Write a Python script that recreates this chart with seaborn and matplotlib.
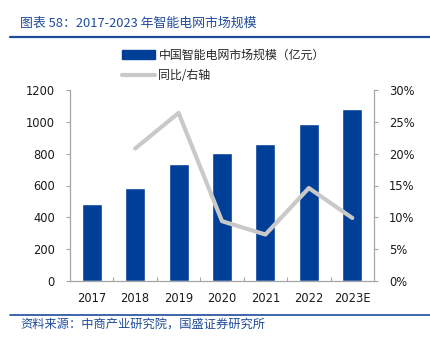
import numpy as np
import pandas as pd
import matplotlib
matplotlib.use("Agg")
import matplotlib.pyplot as plt
import seaborn as sns
from matplotlib.patches import Patch
from matplotlib.lines import Line2D

years = ["2017", "2018", "2019", "2020", "2021", "2022", "2023E"]
market_size = [481, 583, 735, 804, 862, 985, 1083]
yoy_pct = [np.nan, 20.8, 26.4, 9.4, 7.3, 14.6, 9.9]
left_ticks = [0, 200, 400, 600, 800, 1000, 1200]
right_ticks = [0, 5, 10, 15, 20, 25, 30]

title_text = "图表 58：2017-2023 年智能电网市场规模"
source_text = "资料来源：中商产业研究院，国盛证券研究所"
bar_label = "中国智能电网市场规模（亿元）"
line_label = "同比/右轴"

sns.set_theme(style="white")
plt.rcParams['font.family'] = ['DejaVu Sans', 'Noto Sans CJK SC']

BLUE = "#003F97"
GREY = "#C9C9C9"
DARK = "#1F4C9A"
SPINE = "#A6A6A6"

fig = plt.figure(figsize=(4.31, 3.38), dpi=100)
ax = fig.add_axes([70/431, 1-281/338, (374-70)/431, (281-90)/338])

df = pd.DataFrame({"year": years, "size": market_size, "yoy": yoy_pct})
sns.barplot(data=df, x="year", y="size", color=BLUE, width=0.46, ax=ax, saturation=1)
ax.set_xlim(-0.5, len(years) - 0.5)
ax.set_ylim(0, 1200)
ax.set_yticks(left_ticks)
ax.set_yticklabels([str(t) for t in left_ticks])
ax.set_xlabel("")
ax.set_ylabel("")

ax2 = ax.twinx()
df["pos"] = np.arange(len(years))
sns.lineplot(data=df, x="pos", y="yoy", color=GREY, linewidth=3, ax=ax2, legend=False)
ax2.set_ylim(0, 30)
ax2.set_yticks(right_ticks)
ax2.set_yticklabels([f"{t}%" for t in right_ticks])
ax2.set_ylabel("")
ax2.set_xlabel("")
ax2.set_xlim(-0.5, len(years) - 0.5)

for a in (ax, ax2):
    for s in a.spines.values():
        s.set_visible(False)
    a.grid(False)

ax.spines["left"].set_visible(True)
ax.spines["bottom"].set_visible(True)
ax2.spines["right"].set_visible(True)
for s in (ax.spines["left"], ax.spines["bottom"], ax2.spines["right"]):
    s.set_color(SPINE)
    s.set_linewidth(0.9)

ax.tick_params(axis="y", which="major", left=True, direction="out", length=3,
               color=SPINE, width=0.8, labelsize=8.3, pad=8, labelcolor="#1a1a1a")
ax.tick_params(axis="x", which="major", bottom=False, labelsize=8.3, pad=2, labelcolor="#1a1a1a")
ax.set_xticks(np.arange(0.5, len(years) - 1, 1.0), minor=True)
ax.tick_params(axis="x", which="minor", bottom=True, direction="in", length=3,
               color=SPINE, width=0.8)
ax2.tick_params(axis="y", right=True, direction="out", length=3, color=SPINE,
                width=0.8, labelsize=8.3, pad=8, labelcolor="#1a1a1a")

handles = [Patch(facecolor=BLUE, edgecolor=BLUE), Line2D([0], [0], color=GREY, lw=3)]
fig.legend(handles, [bar_label, line_label], loc="upper left",
           bbox_to_anchor=(122/431, 1-49/338), frameon=False,
           prop={"family": ["Noto Sans CJK SC", "DejaVu Sans"], "size": 8.6},
           handlelength=2.75, handleheight=0.75, handletextpad=0.3, labelspacing=0.6,
           borderaxespad=0, borderpad=0)

fig.text(20/431, 1-23/338, title_text, color=DARK, fontsize=9.3, style="italic",
         va="center", ha="left", family=["Noto Sans CJK SC", "DejaVu Sans"])
fig.add_artist(Line2D([10/431, 1.0], [1-37/338, 1-37/338], color=DARK, lw=1.6,
                      transform=fig.transFigure))
fig.add_artist(Line2D([10/431, 1.0], [1-315/338, 1-315/338], color=DARK, lw=1.2,
                      transform=fig.transFigure))
fig.text(20/431, 1-325/338, source_text, color=DARK, fontsize=8.8, style="italic",
         va="center", ha="left", family=["Noto Sans CJK SC", "DejaVu Sans"])

fig.savefig("out.png", dpi=100)
